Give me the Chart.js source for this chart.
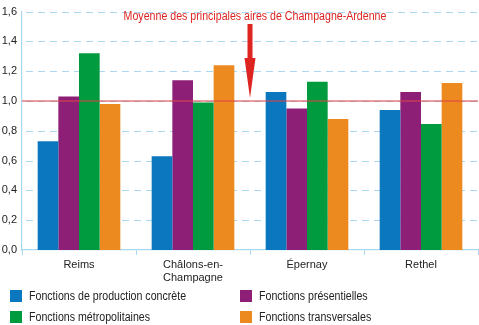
<!DOCTYPE html>
<html>
<head>
<meta charset="utf-8">
<script src="https://cdn.jsdelivr.net/npm/chart.js@4"></script>
<style>
  html, body { margin: 0; padding: 0; background: #fff; }
  #wrap { width: 479px; height: 325px; }
</style>
</head>
<body>
<div id="wrap"><canvas id="chart" width="479" height="325"></canvas></div>
<script>
const FONT = '"Liberation Sans", Arial, sans-serif';

const cities = ["Reims", ["Châlons-en-", "Champagne"], "Épernay", "Rethel"];
const production = [0.73, 0.63, 1.06, 0.94];
const presentielles = [1.03, 1.14, 0.95, 1.06];
const metropolitaines = [1.32, 0.99, 1.13, 0.845];
const transversales = [0.98, 1.24, 0.88, 1.12];
const average = 1.0;
const averageLabel = "Moyenne des principales aires de Champagne-Ardenne";

const gridBlue = "#aad8f2";
const red = "#dd2420";
const SQUEEZE = 0.85; // the original uses a narrow face

function narrowText(c, text, x, y, align) {
  c.save();
  c.translate(x, y);
  c.scale(SQUEEZE, 1);
  c.textAlign = align || "left";
  c.fillText(text, 0, 0);
  c.restore();
}

// legend drawn by hand, two columns like the original
const legendPlugin = {
  id: "twoColLegend",
  afterDraw(chart) {
    const c = chart.ctx;
    const ds = chart.data.datasets;
    const spots = [[10, 290], [240, 290], [10, 311], [240, 311]];
    c.save();
    c.font = "12.5px " + FONT;
    c.textBaseline = "middle";
    ds.forEach((d, k) => {
      const [x, y] = spots[k];
      c.fillStyle = d.backgroundColor;
      c.fillRect(x, y, 12, 12);
      c.fillStyle = "#222";
      narrowText(c, d.label, x + 19, y + 6.5);
    });
    c.restore();
  }
};

// dashed horizontal grid, drawn before the bars
const dashedGrid = {
  id: "dashedGrid",
  beforeDatasetsDraw(chart) {
    const c = chart.ctx;
    const { y } = chart.scales;
    const area = chart.chartArea;
    c.save();
    c.strokeStyle = gridBlue;
    c.lineWidth = 1.2;
    c.setLineDash([7, 5]);
    y.ticks.forEach(t => {
      if (t.value === 0) return;
      const py = Math.round(y.getPixelForValue(t.value)) + 0.5;
      c.beginPath();
      c.moveTo(area.left + 4, py);
      c.lineTo(area.right, py);
      c.stroke();
    });
    c.restore();
  }
};

// red average line + arrow + caption
const averagePlugin = {
  id: "averageLine",
  afterDatasetsDraw(chart) {
    const c = chart.ctx;
    const { x, y } = chart.scales;
    const area = chart.chartArea;
    const yy = y.getPixelForValue(average);
    c.save();
    c.strokeStyle = "rgba(221,70,70,0.7)";
    c.lineWidth = 1.3;
    c.beginPath();
    c.moveTo(area.left, yy);
    c.lineTo(area.right, yy);
    c.stroke();

    const ax = (x.getPixelForValue(1) + x.getPixelForValue(2)) / 2;
    c.fillStyle = red;
    c.beginPath();
    c.moveTo(ax - 2.5, 24);
    c.lineTo(ax + 2.5, 24);
    c.lineTo(ax + 2.5, 58);
    c.lineTo(ax + 5.5, 58);
    c.lineTo(ax, yy - 3);
    c.lineTo(ax - 5.5, 58);
    c.lineTo(ax - 2.5, 58);
    c.closePath();
    c.fill();

    c.font = "12.5px " + FONT;
    c.textBaseline = "middle";
    narrowText(c, averageLabel, ax + 5, 17, "center");
    c.restore();
  }
};

new Chart(document.getElementById("chart"), {
  type: "bar",
  data: {
    labels: cities,
    datasets: [
      { label: "Fonctions de production concrète", data: production, backgroundColor: "#0a77bf" },
      { label: "Fonctions présentielles", data: presentielles, backgroundColor: "#8d1f77" },
      { label: "Fonctions métropolitaines", data: metropolitaines, backgroundColor: "#009a3f" },
      { label: "Fonctions transversales", data: transversales, backgroundColor: "#ec8a1f" }
    ]
  },
  options: {
    responsive: false,
    animation: false,
    layout: { padding: { top: 5, right: 1, bottom: 35, left: 0 } },
    datasets: {
      bar: { categoryPercentage: 0.725, barPercentage: 1.0, borderWidth: 0 }
    },
    plugins: {
      legend: { display: false },
      tooltip: { enabled: false }
    },
    scales: {
      x: {
        offset: true,
        grid: {
          offset: true,
          drawOnChartArea: false,
          drawTicks: true,
          tickLength: 5,
          color: gridBlue
        },
        border: { color: gridBlue, width: 1.2 },
        ticks: {
          color: "#222",
          font: { family: FONT, size: 11 },
          padding: 3,
          maxRotation: 0
        },
        afterFit(scale) { scale.height = 40; }
      },
      y: {
        min: 0,
        max: 1.6,
        grid: { display: false, drawTicks: false, tickLength: 0 },
        border: { color: gridBlue, width: 1.2 },
        ticks: {
          stepSize: 0.2,
          color: "#222",
          font: { family: FONT, size: 11 },
          padding: 5,
          callback: v => v.toFixed(1).replace(".", ",")
        },
        afterFit(scale) { scale.width = 22; }
      }
    }
  },
  plugins: [dashedGrid, averagePlugin, legendPlugin]
});
</script>
</body>
</html>
